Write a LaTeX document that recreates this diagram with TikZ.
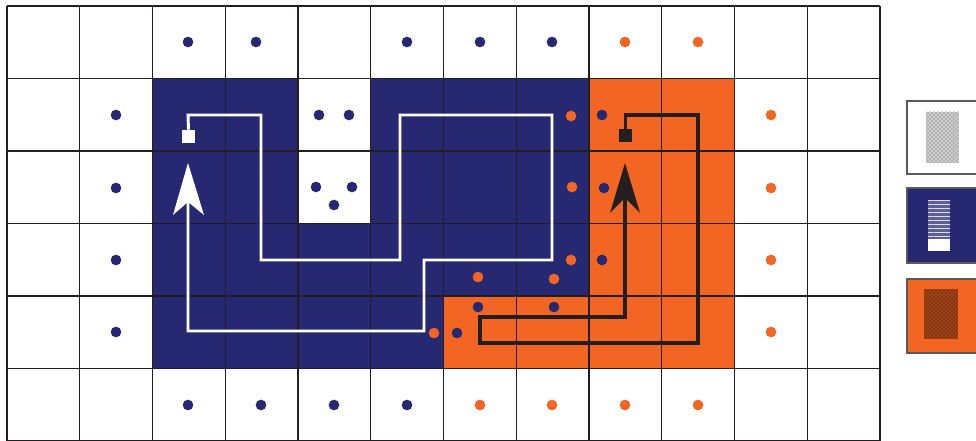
\documentclass[tikz,border=0pt]{standalone}
\usetikzlibrary{patterns}
\definecolor{navy}{RGB}{38,40,114}
\definecolor{orng}{RGB}{242,101,34}
\definecolor{ink}{RGB}{35,31,32}
\begin{document}
\begin{tikzpicture}[x=0.75pt,y=-0.75pt,
  gridline/.style={ink, line width=0.9pt},
  ndot/.style={fill=navy},
  odot/.style={fill=orng},
  wpath/.style={white, line width=2.2pt},
  bpath/.style={ink, line width=2.6pt},
  sq/.style={inner sep=0pt, minimum size=9.75pt, draw=none},
  legendbox/.style={draw=gray!70!black, line width=1.1pt}]
\useasboundingbox (0,0) rectangle (976,441);
\clip (0,0) rectangle (976,441);
\fill[white] (0,0) rectangle (976,441);
% grid cells
\begin{scope}[shift={(5.25pt,-4.5pt)}, x=54.5625pt, y=-54.375pt]
  \fill[navy] (2,1) rectangle (4,3);
  \fill[navy] (5,1) rectangle (8,3);
  \fill[navy] (2,3) rectangle (8,4);
  \fill[navy] (2,4) rectangle (6,5);
  \fill[orng] (8,1) rectangle (10,4);
  \fill[orng] (6,4) rectangle (10,5);
  \foreach \i in {0,...,12} \draw[gridline] (\i,0) -- (\i,6);
  \foreach \j in {0,...,6} \draw[gridline] (0,\j) -- (12,\j);
\end{scope}
% dots
\foreach \p in {(188,42),(256,42),(407,42),(480,42),(552,42),
  (116,115),(319,115),(349,115),(602,115),
  (116,188),(316,187),(352,187),(334,205),(604,188),
  (116,260),(602,260),
  (116,332),(478,307),(554,307),(457,333),
  (188,405),(261,405),(334,405),(407,405)}
  \fill[ndot] \p circle[radius=4pt];
\foreach \p in {(625,42),(698,42),(571,116),(771,115),(572,187),(771,188),
  (571,260),(771,260),(478,277),(554,279),(771,332),(434,333),
  (480,405),(552,405),(625,405),(698,405)}
  \fill[odot] \p circle[radius=4pt];
% white route
\node[sq, fill=white] (ws) at (188.5,136.5) {};
\coordinate (wa) at (188,202);
\draw[wpath] (ws.north) -- (188,115) -- (261,115) -- (261,260) -- (400,260)
  -- (400,115) -- (552,115) -- (552,260) -- (424,260) -- (424,331)
  -- (188,331) -- (wa);
\fill[white] (188,163) -- (204,215) -- (wa) -- (173,215) -- cycle;
% black route
\node[sq, fill=ink] (bs) at (625.5,135.5) {};
\coordinate (ba) at (625,198);
\draw[bpath] (bs.north) -- (625.5,115) -- (698,115) -- (698,343) -- (480,343)
  -- (480,317) -- (625,317) -- (ba);
\fill[ink] (625,163) -- (640,213) -- (ba) -- (610,213) -- cycle;
% legend
\draw[legendbox, fill=white] (907,101) rectangle (995,174);
\fill[gray!40] (926,112) rectangle (959,163);
\fill[pattern=crosshatch dots, pattern color=gray!75!black] (926,112) rectangle (959,163);
\draw[legendbox, fill=navy] (907,188) rectangle (995,263);
\fill[navy!75!white] (928,200) rectangle (950,239);
\fill[pattern=horizontal lines, pattern color=white!85!navy] (928,200) rectangle (950,239);
\fill[white] (928,239) rectangle (950,251);
\draw[legendbox, fill=orng] (907,279) rectangle (995,353);
\fill[orng!55!black] (924,289) rectangle (958,339);
\fill[pattern=crosshatch dots, pattern color=orng] (924,289) rectangle (958,339);
\end{tikzpicture}
\end{document}
